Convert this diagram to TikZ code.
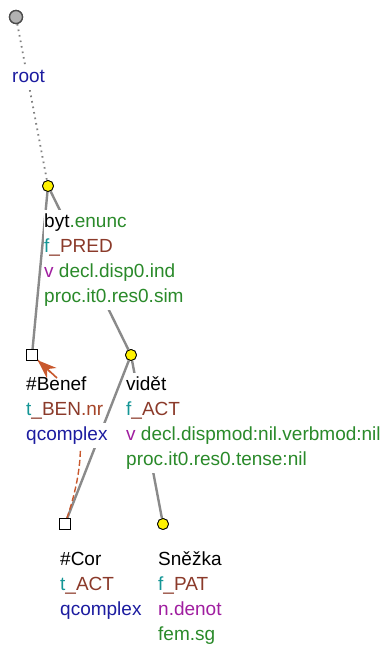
\documentclass[tikz,border=0pt]{standalone}
\usepackage{fontspec}
\setmainfont{Liberation Sans}
\usetikzlibrary{arrows.meta}

\definecolor{edgegray}{RGB}{138,138,138}
\definecolor{lgreen}{RGB}{42,138,42}
\definecolor{lteal}{RGB}{20,150,150}
\definecolor{lbrown}{RGB}{139,58,42}
\definecolor{lred}{RGB}{165,68,40}
\definecolor{lpurple}{RGB}{160,30,160}
\definecolor{lblue}{RGB}{28,28,160}
\definecolor{corefc}{RGB}{200,88,45}

\tikzset{
  tnode/.style={circle,draw=black,line width=0.8pt,fill=yellow,minimum size=11pt,inner sep=0pt},
  rnode/.style={circle,draw=black!70,line width=1.3pt,fill=black!30,minimum size=13pt,inner sep=0pt},
  gnode/.style={rectangle,draw=black,line width=0.9pt,fill=white,minimum size=10.5pt,inner sep=0pt},
  edge/.style={draw=edgegray,line width=2.4pt},
  rootedge/.style={draw=black!50,line width=1.8pt,dash pattern=on 1.6pt off 4pt},
  coref/.style={draw=corefc,line width=1.4pt,dash pattern=on 6pt off 3pt},
  coreftip/.style={draw=corefc,line width=1.6pt,-{Stealth[length=19pt,width=14pt,inset=6pt]}},
  lbl/.style={anchor=base west,fill=white,inner xsep=0pt,inner ysep=0pt,
    text height=17pt,text depth=8pt,font=\fontsize{19}{21}\selectfont}
}

\begin{document}
\begin{tikzpicture}[x=1pt,y=-1pt]
\useasboundingbox (0,0) rectangle (388,645);

% tree nodes
\node[rnode] (root) at (16,17) {};
\node[tnode] (byt) at (48,186) {};
\node[gnode] (benef) at (32,355) {};
\node[tnode] (videt) at (131,355) {};
\node[gnode] (cor) at (65,524) {};
\node[tnode] (snezka) at (163,524) {};
\coordinate (ctail) at (57,378);

% edges
\draw[rootedge] (root) -- (byt);
\draw[edge] (byt) -- (benef);
\draw[edge] (byt) -- (videt);
\draw[edge] (videt) -- (cor);
\draw[edge] (videt) -- (snezka);

% coreference
\draw[coref] (cor) .. controls (100,420) and (65,385) .. (benef);

% redraw nodes over edges
\node[rnode] at (root) {};
\node[tnode] at (byt) {};
\node[gnode] at (benef) {};
\node[tnode] at (videt) {};
\node[gnode] at (cor) {};
\node[tnode] at (snezka) {};

% labels
\node[lbl] (lroot) at (12,82) {\textcolor{lblue}{root}};

\node[lbl] (lbyt1) at (44,227) {byt\textcolor{lgreen}{.enunc}};
\node[lbl] (lbyt2) at (44,252) {\textcolor{lteal}{f}\textcolor{lbrown}{\_PRED}};
\node[lbl] (lbyt3) at (44,277) {\textcolor{lpurple}{v} \textcolor{lgreen}{decl.disp0.ind}};
\node[lbl] (lbyt4) at (44,302) {\textcolor{lgreen}{proc.it0.res0.sim}};

\node[lbl] (lbenef1) at (26,390) {\#Benef};
\node[lbl] (lbenef2) at (26,415) {\textcolor{lteal}{t}\textcolor{lbrown}{\_BEN}\textcolor{lred}{.nr}};
\node[lbl] (lbenef3) at (26,440) {\textcolor{lblue}{qcomplex}};

\node[lbl] (lvidet1) at (126,390) {vidět};
\node[lbl] (lvidet2) at (126,415) {\textcolor{lteal}{f}\textcolor{lbrown}{\_ACT}};
\node[lbl] (lvidet3) at (126,440) {\textcolor{lpurple}{v} \textcolor{lgreen}{decl.dispmod:nil.verbmod:nil}};
\node[lbl] (lvidet4) at (126,465) {\textcolor{lgreen}{proc.it0.res0.tense:nil}};

\node[lbl] (lcor1) at (60,565) {\#Cor};
\node[lbl] (lcor2) at (60,590) {\textcolor{lteal}{t}\textcolor{lbrown}{\_ACT}};
\node[lbl] (lcor3) at (60,615) {\textcolor{lblue}{qcomplex}};

\node[lbl] (lsnezka1) at (158,565) {Sněžka};
\node[lbl] (lsnezka2) at (158,590) {\textcolor{lteal}{f}\textcolor{lbrown}{\_PAT}};
\node[lbl] (lsnezka3) at (158,615) {\textcolor{lpurple}{n.denot}};
\node[lbl] (lsnezka4) at (158,640) {\textcolor{lgreen}{fem.sg}};

% arrow tip of the coreference, above the label boxes
\draw[coreftip] (ctail) -- (benef);
\end{tikzpicture}
\end{document}
